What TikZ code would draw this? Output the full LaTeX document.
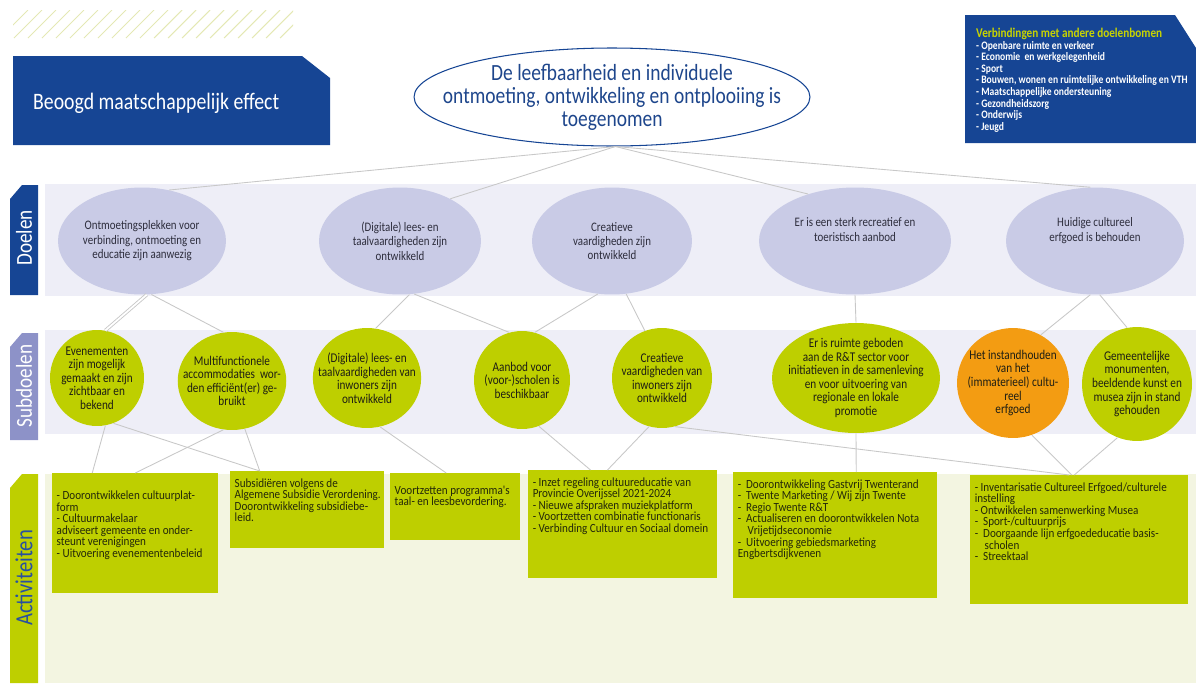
\documentclass[tikz,border=0pt]{standalone}
\usepackage{fontspec}
\setmainfont[FakeStretch=0.84]{Carlito}
\newfontfamily\actfont[FakeStretch=0.89]{Carlito}
\usetikzlibrary{shapes.geometric}

\definecolor{blauw}{RGB}{22,69,148}
\definecolor{effecttekst}{RGB}{30,70,140}
\definecolor{doelband}{RGB}{238,238,247}
\definecolor{doelvul}{RGB}{201,203,230}
\definecolor{doeltekst}{RGB}{45,45,60}
\definecolor{subtab}{RGB}{141,146,200}
\definecolor{groen}{RGB}{190,207,0}
\definecolor{oranje}{RGB}{243,156,18}
\definecolor{subtekst}{RGB}{30,30,20}
\definecolor{actband}{RGB}{243,245,225}
\definecolor{acttekst}{RGB}{35,40,10}
\definecolor{lijngrijs}{RGB}{200,200,200}
\definecolor{arcering}{RGB}{228,232,180}
\definecolor{geelgroen}{RGB}{200,212,0}
\definecolor{tabblauw}{RGB}{40,80,160}

\begin{document}
\begin{tikzpicture}[x=0.02cm,y=-0.02cm,
    effect/.style={
% The shape:
      ellipse,
      minimum width=7.92cm, minimum height=1.96cm,
      inner xsep=-18pt, inner ysep=0pt,
% The border:
      draw=blauw, line width=0.6pt, fill=white,
% The text:
      text=effecttekst, align=center,
      font=\fontsize{13.2}{13}\selectfont
    },
    doel/.style={
% The shape:
      ellipse, inner sep=0pt,
      minimum height=2.14cm,
% The filling:
      fill=doelvul,
% The text:
      text=doeltekst, align=center,
      font=\fontsize{7.4}{8.2}\selectfont
    },
    subdoel/.style={
      ellipse, inner sep=-6pt,
      fill=groen,
      text=subtekst, align=center,
      font=\fontsize{7.6}{7.7}\selectfont
    },
    activiteit/.style={
      rectangle, anchor=north west,
      inner xsep=2.5pt, inner ysep=4pt,
      fill=groen,
      text=acttekst,
      font=\actfont\fontsize{7.1}{6.6}\selectfont
    },
    tablabel/.style={rotate=90, font=\fontsize{13}{13}\selectfont},
    verbinding/.style={draw=lijngrijs, line width=0.5pt}
  ]
  \useasboundingbox (0,0) rectangle (1196,683);

  % hatching top left
  \begin{scope}
    \clip (13,10) rectangle (293,38);
    \foreach \x in {0,14,...,294}
      \draw[arcering, line width=0.6pt] (\x,38) -- (\x+28,10);
  \end{scope}

  % header boxes
  \fill[blauw] (13,56) -- (302,56) -- (330,78) -- (330,145) -- (13,145) -- cycle;
  \node[anchor=west, text=white, font=\fontsize{13.4}{13.4}\selectfont]
    (effectlabel) at (27,103) {Beoogd maatschappelijk effect};
  \fill[blauw] (965,15) -- (1175,15) -- (1196,48) -- (1196,143) -- (965,143) -- cycle;
  \node[anchor=north west, align=left, text=white,
        font=\bfseries\fontsize{6.5}{6.6}\selectfont]
    (verbind) at (970,22) {\textcolor{geelgroen}{\fontsize{7.6}{7.6}\selectfont Verbindingen met andere doelenbomen}\\
      - Openbare ruimte en verkeer\\
      - Economie\ \ en werkgelegenheid\\
      - Sport\\
      - Bouwen, wonen en ruimtelijke ontwikkeling en VTH\\
      - Maatschappelijke ondersteuning\\
      - Gezondheidszorg\\
      - Onderwijs\\
      - Jeugd};

  \node[effect] (effect) at (612,97)
    {De leefbaarheid en individuele\\ontmoeting, ontwikkeling en ontplooiing is\\toegenomen};

  % bands and tabs
  \fill[doelband] (45,184) rectangle (1196,296);
  \fill[doelband] (45,330) rectangle (1196,434);
  \fill[actband] (45,474) rectangle (1196,683);
  \fill[blauw] (10,199) -- (22,185) -- (38,185) -- (38,295) -- (10,295) -- cycle;
  \fill[subtab] (10,347) -- (22,333) -- (38,333) -- (38,440) -- (10,440) -- cycle;
  \fill[groen] (10,488) -- (22,474) -- (38,474) -- (38,683) -- (10,683) -- cycle;
  \node[tablabel, text=white] (doelenlabel) at (24,238) {Doelen};
  \node[tablabel, text=white] (subdoelenlabel) at (24,386) {Subdoelen};
  \node[tablabel, text=tabblauw, font=\fontsize{14}{14}\selectfont]
    (activiteitenlabel) at (24,578) {Activiteiten};

  % Doelen
  \node[doel, minimum width=3.36cm] (doel1) at (142,241)
    {Ontmoetingsplekken voor\\verbinding, ontmoeting en\\educatie zijn aanwezig};
  \node[doel, minimum width=3.24cm] (doel2) at (400,241)
    {(Digitale) lees- en\\taalvaardigheden zijn\\ontwikkeld};
  \node[doel, minimum width=3.2cm] (doel3) at (612,241)
    {Creatieve\\vaardigheden zijn\\ontwikkeld};
  \node[doel, minimum width=3.84cm] (doel4) at (855,241)
    {Er is een sterk recreatief en\\toeristisch aanbod\\[5pt]};
  \node[doel, minimum width=3.56cm] (doel5) at (1095,241)
    {Huidige cultureel\\erfgoed is behouden\\[5pt]};

  % Subdoelen
  \node[subdoel, minimum width=1.88cm, minimum height=1.92cm] (sub1) at (97,378)
    {Evenementen\\zijn mogelijk\\gemaakt en zijn\\zichtbaar en\\bekend};
  \node[subdoel, minimum width=1.96cm, minimum height=1.96cm] (sub2) at (232,381)
    {Multifunctionele\\accommodaties\ \ wor-\\den efficiënt(er) ge-\\bruikt};
  \node[subdoel, minimum width=2cm, minimum height=2cm] (sub3) at (367,378)
    {(Digitale) lees- en\\taalvaardigheden van\\inwoners zijn\\ontwikkeld};
  \node[subdoel, minimum width=1.92cm, minimum height=1.96cm] (sub4) at (522,380)
    {Aanbod voor\\(voor-)scholen is\\beschikbaar};
  \node[subdoel, minimum width=2cm, minimum height=2cm] (sub5) at (662,378)
    {Creatieve\\vaardigheden van\\inwoners zijn\\ontwikkeld};
  \node[subdoel, minimum width=3.36cm, minimum height=2.2cm] (sub6) at (856,378)
    {Er is ruimte geboden\\aan de R\&T sector voor\\initiatieven in de samenleving\\en voor uitvoering van\\regionale en lokale\\promotie};
  \node[subdoel, fill=oranje, minimum width=2.24cm, minimum height=2.2cm] (sub7) at (1013,383)
    {Het instandhouden\\van het\\(immaterieel) cultu-\\reel\\erfgoed};
  \node[subdoel, minimum width=2.2cm, minimum height=2.28cm] (sub8) at (1137,384)
    {Gemeentelijke\\monumenten,\\beeldende kunst en\\musea zijn in stand\\gehouden};

  % Activiteiten
  \node[activiteit] (act1) at (52,473)
    {\parbox[t][2.12cm][t]{3.14cm}{\raggedright\vspace*{6pt}
      - Doorontwikkelen cultuurplat-\\form\\- Cultuurmakelaar\\adviseert gemeente en onder-\\steunt verenigingen\\- Uitvoering evenementenbeleid}};
  \node[activiteit] (act2) at (230,471)
    {\parbox[t][1.26cm][t]{2.9cm}{\raggedright
      Subsidiëren volgens de\\\mbox{Algemene Subsidie Verordening.}\\Doorontwikkeling subsidiebe-\\leid.}};
  \node[activiteit] (act3) at (390,473)
    {\parbox[t][1.06cm][t]{2.42cm}{\raggedright\vspace*{3pt}
      Voortzetten programma's\\taal- en leesbevordering.}};
  \node[activiteit] (act4) at (528,470)
    {\parbox[t][1.88cm][t]{3.59cm}{\raggedright
      - Inzet regeling cultuureducatie van\\Provincie Overijssel 2021-2024\\- Nieuwe afspraken muziekplatform\\- Voortzetten combinatie functionaris\\- Verbinding Cultuur en Sociaal domein}};
  \node[activiteit] (act5) at (733,472)
    {\parbox[t][2.24cm][t]{3.9cm}{\raggedright
      -\ \ Doorontwikkeling Gastvrij Twenterand\\-\ \ Twente Marketing / Wij zijn Twente\\-\ \ Regio Twente R\&T\\-\ \ Actualiseren en doorontwikkelen Nota\\\hspace*{0.8em}Vrijetijdseconomie\\-\ \ Uitvoering gebiedsmarketing\\Engbertsdijkvenen}};
  \node[activiteit] (act6) at (970,475)
    {\parbox[t][2.3cm][t]{4.18cm}{\raggedright
      - Inventarisatie Cultureel Erfgoed/culturele\\instelling\\- Ontwikkelen samenwerking Musea\\-\ \ Sport-/cultuurprijs\\-\ \ Doorgaande lijn erfgoededucatie basis-\\\hspace*{0.8em}scholen\\-\ \ Streektaal}};

  % effect to doelen
  \draw[verbinding] (effect.-86) -- (doel1.62);
  \draw[verbinding] (effect.-86) -- (doel2.40);
  \draw[verbinding] (effect.-86) -- (doel4.135);
  \draw[verbinding] (effect.-86) -- (doel5.95);

  % doelen to subdoelen
  \draw[verbinding, double=white, double distance=1pt] (doel1.-85) -- (sub1.80);
  \draw[verbinding] (doel1.-80) -- (sub2.100);
  \draw[verbinding] (doel2.-80) -- (sub3.80);
  \draw[verbinding] (doel2.-75) -- (sub4.105);
  \draw[verbinding] (doel3.-105) -- (sub4.75);
  \draw[verbinding] (doel3.-75) -- (sub5.110);
  \draw[verbinding] (doel4.south) -- (sub6.north);
  \draw[verbinding] (doel5.-95) -- (sub7.60);
  \draw[verbinding] (doel5.-85) -- (sub8.100);

  % subdoelen to activiteiten
  \draw[verbinding] (sub1.-80) -- ([xshift=-0.86cm]act1.north);
  \draw[verbinding] (sub1.-70) -- ([xshift=-0.95cm]act2.north);
  \draw[verbinding] (sub2.-100) -- (act1.north);
  \draw[verbinding] (sub2.-75) -- ([xshift=-0.95cm]act2.north);
  \draw[verbinding] (sub3.-75) -- ([xshift=-0.18cm]act3.north);
  \draw[verbinding] (sub4.-70) -- ([xshift=-0.64cm]act4.north);
  \draw[verbinding] (sub5.-105) -- ([xshift=-0.3cm]act4.north);
  \draw[verbinding] (sub5.-75) -- ([xshift=-0.2cm]act6.north);
  \draw[verbinding] (sub6.south) -- ([xshift=0.42cm]act5.north);
  \draw[verbinding] (sub7.-70) -- ([xshift=-0.15cm]act6.north);
  \draw[verbinding] (sub8.-110) -- ([xshift=-0.1cm]act6.north);
\end{tikzpicture}
\end{document}
